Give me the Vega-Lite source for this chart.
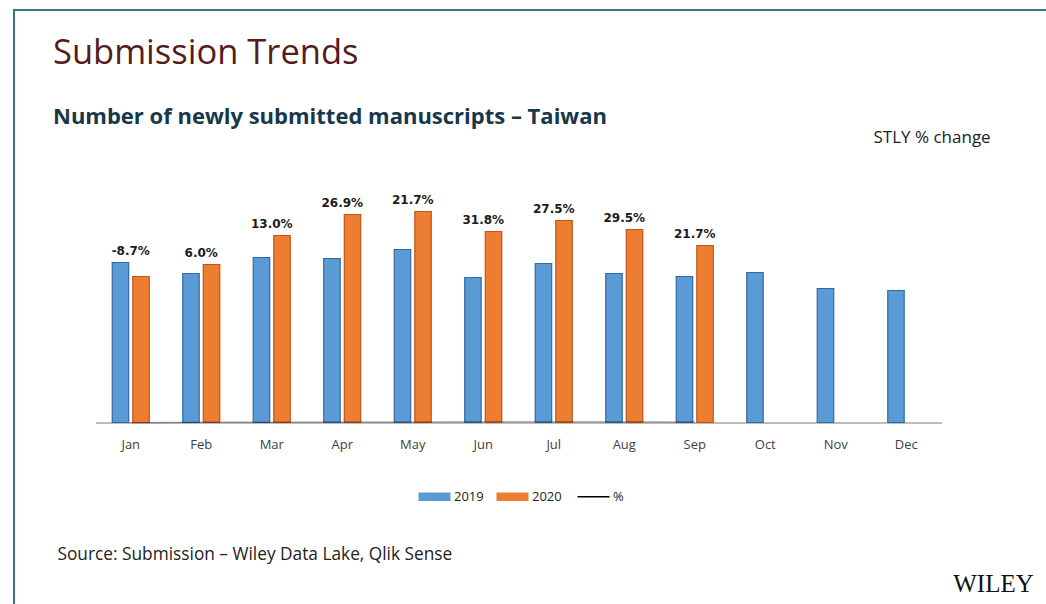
{
  "$schema": "https://vega.github.io/schema/vega-lite/v6.json",
  "width": 1040,
  "height": 600,
  "autosize": {"type": "none"},
  "padding": {"left": 14, "top": 10, "right": 0, "bottom": 0},
  "background": "white",
  "config": {
    "view": {"stroke": "#3f7482", "strokeWidth": 2},
    "font": "Open Sans",
    "locale": {"number": {"decimal": ".", "thousands": ",", "grouping": [3], "currency": ["$", ""], "minus": "-"}}
  },
  "title": {
    "text": "Submission Trends",
    "subtitle": "Number of newly submitted manuscripts – Taiwan",
    "anchor": "start",
    "frame": "group",
    "dx": 39,
    "offset": -119,
    "font": "Open Sans",
    "fontSize": 34.5,
    "fontWeight": "normal",
    "color": "#561b1b",
    "subtitleFont": "Open Sans",
    "subtitleFontSize": 22,
    "subtitleFontWeight": "bold",
    "subtitleColor": "#17384a",
    "subtitlePadding": 36
  },
  "data": {
    "values": [
      {"month": "Jan", "year": "2019", "count": 160},
      {"month": "Jan", "year": "2020", "count": 146, "pct": -0.087},
      {"month": "Feb", "year": "2019", "count": 149},
      {"month": "Feb", "year": "2020", "count": 158, "pct": 0.06},
      {"month": "Mar", "year": "2019", "count": 165},
      {"month": "Mar", "year": "2020", "count": 187, "pct": 0.13},
      {"month": "Apr", "year": "2019", "count": 164},
      {"month": "Apr", "year": "2020", "count": 208, "pct": 0.269},
      {"month": "May", "year": "2019", "count": 173},
      {"month": "May", "year": "2020", "count": 211, "pct": 0.217},
      {"month": "Jun", "year": "2019", "count": 145},
      {"month": "Jun", "year": "2020", "count": 191, "pct": 0.318},
      {"month": "Jul", "year": "2019", "count": 159},
      {"month": "Jul", "year": "2020", "count": 202, "pct": 0.275},
      {"month": "Aug", "year": "2019", "count": 149},
      {"month": "Aug", "year": "2020", "count": 193, "pct": 0.295},
      {"month": "Sep", "year": "2019", "count": 146},
      {"month": "Sep", "year": "2020", "count": 177, "pct": 0.217},
      {"month": "Oct", "year": "2019", "count": 150},
      {"month": "Nov", "year": "2019", "count": 134},
      {"month": "Dec", "year": "2019", "count": 132}
    ]
  },
  "layer": [
    {
      "layer": [
        {
          "mark": {"type": "bar", "strokeWidth": 1.2},
          "encoding": {
            "x": {
              "field": "month", "type": "nominal",
              "sort": ["Jan","Feb","Mar","Apr","May","Jun","Jul","Aug","Sep","Oct","Nov","Dec"],
              "title": "Source: Submission – Wiley Data Lake, Qlik Sense",
              "scale": {"range": [81.5, 927.5], "paddingInner": 0.475, "paddingOuter": 0.2375},
              "axis": {
                "offset": -187.5,
                "labelAngle": 0,
                "labelFont": "Open Sans",
                "labelFontSize": 13,
                "labelColor": "#404040",
                "labelPadding": 16,
                "ticks": false,
                "grid": false,
                "domainColor": "#a6a6a6",
                "domainWidth": 1.5,
                "titleX": 43,
                "titleY": 132,
                "titleAlign": "left",
                "titleBaseline": "middle",
                "titleFont": "Open Sans",
                "titleFontSize": 17.3,
                "titleFontWeight": "normal",
                "titleColor": "#222222"
              }
            },
            "xOffset": {"field": "year", "type": "nominal", "scale": {"paddingInner": 0.2, "paddingOuter": 0}},
            "y": {
              "field": "count", "type": "quantitative",
              "title": "STLY % change",
              "scale": {"domain": [0, 232.5], "range": [412.5, 180], "nice": false},
              "axis": {
                "labels": false, "ticks": false, "domain": false, "grid": false,
                "titleAngle": 0,
                "titleX": 859,
                "titleY": 127,
                "titleAlign": "left",
                "titleBaseline": "middle",
                "titleFont": "Open Sans",
                "titleFontSize": 17,
                "titleFontWeight": "normal",
                "titleColor": "#222222"
              }
            },
            "color": {
              "field": "year", "type": "nominal",
              "scale": {"domain": ["2019", "2020", "%"], "range": ["#5b9bd5", "#ed7d31", "#000000"]},
              "legend": {
                "orient": "none",
                "legendX": 414,
                "legendY": 480,
                "direction": "horizontal",
                "title": null,
                "symbolType": "M-1,-0.26H1V0.26H-1Z",
                "symbolSize": 1024,
                "labelFont": "Open Sans",
                "labelFontSize": 13,
                "labelColor": "#222222",
                "labelOffset": 13,
                "columnPadding": 12,
                "encode": {
                  "symbols": {
                    "update": {
                      "shape": {"signal": "datum.value === '%' ? 'M-1,0H1' : 'M-1,-0.26H1V0.26H-1Z'"},
                      "fill": {"signal": "datum.value === '%' ? 'transparent' : scale('color', datum.value)"},
                      "stroke": {"signal": "datum.value === '%' ? '#000000' : 'transparent'"},
                      "strokeWidth": {"signal": "datum.value === '%' ? 1.5 : 0"},
                      "opacity": {"value": 1}
                    }
                  }
                }
              }
            },
            "stroke": {
              "field": "year", "type": "nominal",
              "scale": {"domain": ["2019", "2020"], "range": ["#2f6ba3", "#bf5516"]},
              "legend": null
            }
          }
        },
        {
          "transform": [
            {"joinaggregate": [{"op": "max", "field": "count", "as": "top"}], "groupby": ["month"]},
            {"filter": "datum.year === '2020'"}
          ],
          "mark": {"type": "text", "font": "DejaVu Sans", "fontWeight": "bold", "fontSize": 12, "dy": -12, "baseline": "middle", "color": "#1a1a1a"},
          "encoding": {
            "x": {"field": "month", "type": "nominal", "sort": ["Jan","Feb","Mar","Apr","May","Jun","Jul","Aug","Sep","Oct","Nov","Dec"], "title": "Source: Submission – Wiley Data Lake, Qlik Sense"},
            "y": {"field": "top", "type": "quantitative", "title": "STLY % change"},
            "text": {"field": "pct", "type": "quantitative", "format": ".1%"}
          }
        }
      ]
    },
    {
      "transform": [{"filter": "datum.year === '2020'"}],
      "mark": {"type": "line", "strokeWidth": 1.5, "strokeOpacity": 0.3},
      "encoding": {
        "x": {"field": "month", "type": "nominal", "sort": ["Jan","Feb","Mar","Apr","May","Jun","Jul","Aug","Sep","Oct","Nov","Dec"], "title": "Source: Submission – Wiley Data Lake, Qlik Sense"},
        "y": {
          "field": "pct", "type": "quantitative",
          "title": "WILEY",
          "scale": {"domain": [0, 100], "range": [412.5, 180], "nice": false},
          "axis": {
            "orient": "right",
            "labels": false, "ticks": false, "domain": false, "grid": false,
            "titleAngle": 0,
            "titleX": -61,
            "titleY": 573,
            "titleAlign": "center",
            "titleBaseline": "middle",
            "titleFont": "Liberation Serif",
            "titleFontSize": 25,
            "titleFontWeight": "normal",
            "titleColor": "#111111"
          }
        },
        "color": {"datum": "%"}
      }
    }
  ],
  "resolve": {"scale": {"y": "independent"}}
}
